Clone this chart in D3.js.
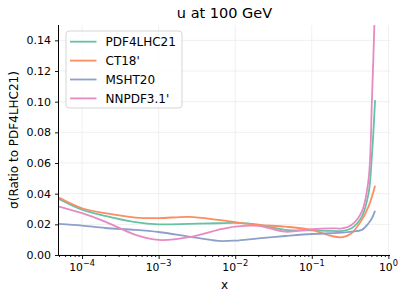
<!DOCTYPE html>
<html><head><meta charset="utf-8">
<script src="https://cdn.jsdelivr.net/npm/d3@7"></script>
<style>body{margin:0;background:#fff}svg{display:block;font-family:"DejaVu Sans",sans-serif}</style>
</head><body><svg id="c" width="407" height="299"></svg>
<script>
const xs = [5e-5, 1e-4, 2e-4, 5e-4, 1e-3, 2.5e-3, 6e-3, 1e-2, 2e-2, 4.5e-2, 0.1, 0.18, 0.25, 0.33, 0.45, 0.55, 0.61, 0.67];
const pdf4lhc21 = [0.0366, 0.0296, 0.0255, 0.0214, 0.0200, 0.0203, 0.0207, 0.0209, 0.0198, 0.0164, 0.0160, 0.0157, 0.0157, 0.0174, 0.0250, 0.0400, 0.0650, 0.1010];
const ct18 = [0.0375, 0.0305, 0.0273, 0.0244, 0.0240, 0.0249, 0.0229, 0.0214, 0.0196, 0.0185, 0.0164, 0.0124, 0.0116, 0.0142, 0.0229, 0.0316, 0.0380, 0.0451];
const msht20 = [0.0203, 0.0192, 0.0176, 0.0164, 0.0150, 0.0120, 0.0092, 0.0094, 0.0109, 0.0124, 0.0137, 0.0142, 0.0146, 0.0152, 0.0164, 0.0207, 0.0240, 0.0288];
const nnpdf31 = [0.0316, 0.0273, 0.0218, 0.0131, 0.0098, 0.0116, 0.0164, 0.0185, 0.0190, 0.0152, 0.0168, 0.0174, 0.0174, 0.0196, 0.0283, 0.0490, 0.1010, 0.1650];
const seriesNames = ["PDF4LHC21", "CT18'", "MSHT20", "NNPDF3.1'"];
const seriesValues = [pdf4lhc21, ct18, msht20, nnpdf31];
const colors = ["#66c2a5", "#fc8d62", "#8da0cb", "#e78ac3"];
const yTicks = [0, 0.02, 0.04, 0.06, 0.08, 0.10, 0.12, 0.14];
const xMajor = [1e-4, 1e-3, 1e-2, 1e-1, 1];
const xMajorExp = ["\u22124", "\u22123", "\u22122", "\u22121", "0"];

const L = 59, R = 390, T = 25, B = 255;
const svg = d3.select("#c");
const x = d3.scaleLog().domain([5e-5, 1.05]).range([L, R]);
const y = d3.scaleLinear().domain([0, 0.15]).range([B, T]);

// minor ticks
const minors = [];
for (let k = -5; k <= 0; k++) for (let m = 2; m <= 9; m++) {
  const v = m * Math.pow(10, k);
  if (v >= 5e-5 && v <= 1.05) minors.push(v);
}

// grid
const g = svg.append("g");
g.selectAll(".gx").data(xMajor).join("line")
  .attr("x1", d => x(d)).attr("x2", d => x(d)).attr("y1", T).attr("y2", B)
  .attr("stroke", "#ebebeb").attr("stroke-width", 0.8);
g.selectAll(".gy").data(yTicks).join("line")
  .attr("x1", L).attr("x2", R).attr("y1", d => y(d)).attr("y2", d => y(d))
  .attr("stroke", "#ebebeb").attr("stroke-width", 0.8);

// clip
svg.append("clipPath").attr("id", "clip").append("rect")
  .attr("x", L).attr("y", T).attr("width", R - L).attr("height", B - T);

const line = d3.line().x(d => x(d[0])).y(d => y(d[1])).curve(d3.curveCatmullRom.alpha(0.5));
svg.append("g").attr("clip-path", "url(#clip)").selectAll("path")
  .data(seriesValues).join("path")
  .attr("d", vals => line(xs.map((xv, i) => [xv, vals[i]])))
  .attr("fill", "none")
  .attr("stroke", (d, i) => colors[i])
  .attr("stroke-width", 1.8)
  .attr("stroke-linecap", "butt");

// axes
const ax = svg.append("g").attr("transform", `translate(0,${B})`)
  .call(d3.axisBottom(x).tickValues(xMajor).tickFormat("").tickSize(4).tickSizeOuter(0));
svg.append("g").attr("transform", `translate(0,${B})`)
  .call(d3.axisBottom(x).tickValues(minors).tickFormat("").tickSize(2).tickSizeOuter(0))
  .select(".domain").remove();
ax.select(".domain").attr("d", `M${L},0.5H${R}`);
const lab = svg.append("g").attr("font-size", 10.8).attr("fill", "#000");
xMajor.forEach((v, i) => {
  const t = lab.append("text").attr("x", x(v)).attr("y", 271).attr("text-anchor", "middle");
  t.append("tspan").text("10");
  t.append("tspan").attr("dy", -4.8).attr("font-size", 8.2).text(xMajorExp[i]);
});

const ay = svg.append("g").attr("transform", `translate(${L},0)`)
  .call(d3.axisLeft(y).tickValues(yTicks).tickFormat(d3.format(".2f")).tickSize(4).tickSizeOuter(0).tickPadding(4));
ay.select(".domain").attr("d", `M-0.5,${T}V${B}`);
ay.selectAll("text").attr("font-size", 11).attr("font-family", "DejaVu Sans").attr("fill", "#000");
svg.selectAll(".domain").attr("stroke", "#000").attr("stroke-width", 1);
svg.selectAll(".tick line").attr("stroke", "#000").attr("stroke-width", 0.9);

// titles
svg.append("text").attr("x", (L + R) / 2).attr("y", 18).attr("text-anchor", "middle")
  .attr("font-size", 14.5).text("u at 100 GeV");
svg.append("text").attr("x", (L + R) / 2).attr("y", 289).attr("text-anchor", "middle")
  .attr("font-size", 12).text("x");
svg.append("text").attr("transform", `translate(18,${(T + B) / 2}) rotate(-90)`)
  .attr("text-anchor", "middle").attr("font-size", 12).text("\u03c3(Ratio to PDF4LHC21)");

// legend
const lg = svg.append("g");
lg.append("rect").attr("x", 66).attr("y", 31).attr("width", 116).attr("height", 77)
  .attr("rx", 3).attr("fill", "#fff").attr("fill-opacity", 0.8).attr("stroke", "#d0d0d0").attr("stroke-width", 0.9);
seriesNames.forEach((n, i) => {
  const yy = 41.7 + i * 18.9;
  lg.append("line").attr("x1", 70).attr("x2", 96.5).attr("y1", yy).attr("y2", yy)
    .attr("stroke", colors[i]).attr("stroke-width", 1.8);
  lg.append("text").attr("x", 105.5).attr("y", yy + 4.3).attr("font-size", 12).text(n);
});
</script></body></html>
